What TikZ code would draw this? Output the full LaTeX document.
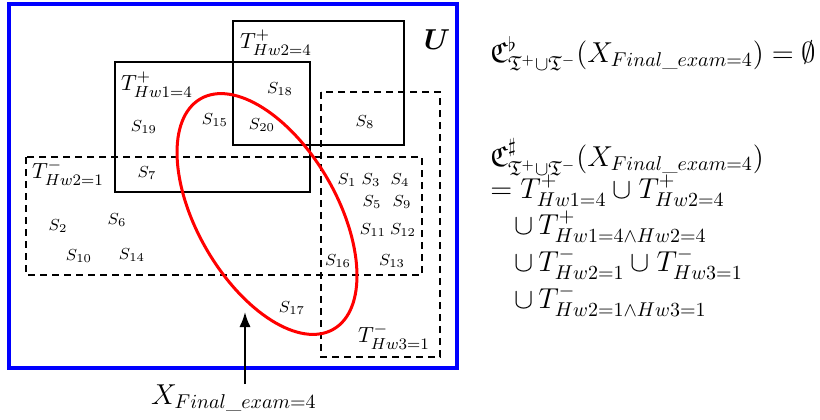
\documentclass[tikz,border=0pt]{standalone}
\usepackage{amsmath,amssymb,bm}
\usetikzlibrary{arrows.meta}
\definecolor{Frame}{HTML}{0000FF}
\definecolor{Curve}{HTML}{FF0000}
\tikzset{
  posbox/.style={draw=black,line width=1pt},
  negbox/.style={draw=black,line width=1pt,dash pattern=on 3.5pt off 2.5pt},
  setlabel/.style={font=\fontsize{11}{13}\selectfont,inner sep=0pt},
  elem/.style={font=\fontsize{8.5}{10}\selectfont,inner sep=0pt},
  formula/.style={anchor=base west,font=\fontsize{14.5}{17}\selectfont,inner sep=0pt},
}

\begin{document}
\begin{tikzpicture}[x=0.5pt,y=-0.5pt,>=Latex]
  \useasboundingbox (0,0) rectangle (820,419);

  % universe
  \draw[Frame,line width=2pt] (9,4) rectangle (457,368);
  \node[font=\fontsize{14.5}{16}\selectfont,inner sep=0pt] (U) at (437,40) {$\bm{U}$};

  % positive and negative sets
  \draw[posbox] (233,21) rectangle (404,145);
  \draw[posbox] (115,62) rectangle (310,192);
  \draw[negbox] (321,92) rectangle (440,357);
  \draw[negbox] (26,157) rectangle (422,275);

  \node[setlabel] (Tp2) at (276,43) {$T^{+}_{Hw2=4}$};
  \node[setlabel] (Tp1) at (157,85) {$T^{+}_{Hw1=4}$};
  \node[setlabel] (Tm2) at (68,173) {$T^{-}_{Hw2=1}$};
  \node[setlabel] (Tm3) at (394,337) {$T^{-}_{Hw3=1}$};

  % target concept
  \draw[Curve,line width=1.5pt,rotate around={-60:(267,214)}] (267,214) ellipse (66.5pt and 35pt);

  % objects
  \foreach \k/\x/\y in {1/347/180, 3/371/180, 4/400/180, 5/372/202, 9/402/202,
    11/373/230, 12/403/230, 16/338/261, 13/392/261, 2/58/226, 6/117/220,
    10/79/256, 14/132/255, 17/292/308, 18/280/89, 19/144/127, 15/215/120,
    20/262/125, 8/365/122, 7/147/173}{
    \node[elem] (s\k) at (\x,\y) {$S_{\k}$};
  }

  % concept label
  \node[font=\fontsize{14.5}{17}\selectfont,inner sep=0pt] (X) at (234,398) {$X_{Final\_exam=4}$};
  \coordinate (tip) at (245,312);
  \draw[->,line width=1pt] (X.north -| tip) -- (tip);

  % approximations
  \node[formula] (low) at (490,62)
    {$\mathfrak{C}^{\flat}_{\mathfrak{T}^{+}\cup\mathfrak{T}^{-}}(X_{Final\_exam=4})=\emptyset$};
  \node[formula] (up) at (490,166)
    {$\mathfrak{C}^{\sharp}_{\mathfrak{T}^{+}\cup\mathfrak{T}^{-}}(X_{Final\_exam=4})$};
  \node[formula] (up1) at (490,198) {$=T^{+}_{Hw1=4}\cup T^{+}_{Hw2=4}$};
  \node[formula] (up2) at (514,234) {$\cup\, T^{+}_{Hw1=4\wedge Hw2=4}$};
  \node[formula] (up3) at (514,271) {$\cup\, T^{-}_{Hw2=1}\cup T^{-}_{Hw3=1}$};
  \node[formula] (up4) at (514,308) {$\cup\, T^{-}_{Hw2=1\wedge Hw3=1}$};
\end{tikzpicture}
\end{document}
